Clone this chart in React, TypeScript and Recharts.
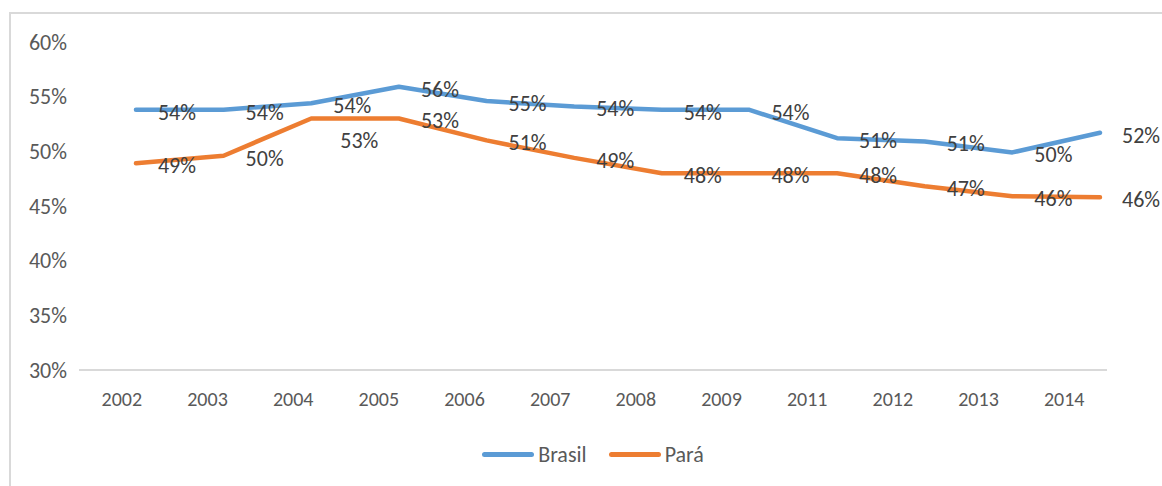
import { LineChart, Line, XAxis, YAxis, Legend, LabelList } from "recharts";

const years = ["2002", "2003", "2004", "2005", "2006", "2007", "2008", "2009", "2011", "2012", "2013", "2014"];
const brasil = [53.8, 53.8, 54.4, 55.9, 54.6, 54.1, 53.8, 53.8, 51.2, 50.9, 49.9, 51.7];
const para = [48.9, 49.6, 53.0, 53.0, 51.0, 49.4, 48.0, 48.0, 48.0, 46.8, 45.9, 45.8];
const yTicks = [30, 35, 40, 45, 50, 55, 60];

const rows = years.map((year, idx) => ({
    year,
    idx,
    brasil: brasil[idx],
    para: para[idx]
}));

const FONT = "Carlito, Calibri, Lato, sans-serif";
const BLUE = "#5b9bd5";
const ORANGE = "#ed7d31";

const pct = (v: any) => Math.round(Number(v)) + "%";

// data label to the right of the point; Pará labels drop below when the
// Brasil line is too close above
function makeLabel(kind: "brasil" | "para") {
    return (props: any) => {
        const { x, y, value, index } = props;
        const crowded = kind === "para" && brasil[index] - para[index] < 2;
        return (
            <text
                x={x + 22 + (crowded ? 7 : 0)}
                y={y + (crowded ? 22 : 2)}
                dy="0.355em"
                fill="#404040"
                fontSize={22}
                fontFamily={FONT}
                textAnchor="start"
            >
                {pct(value)}
            </text>
        );
    };
}

function LegendBox() {
    const items = [
        { name: "Brasil", color: BLUE },
        { name: "Pará", color: ORANGE }
    ];
    return (
        <div
            style={{
                display: "flex",
                justifyContent: "center",
                alignItems: "center",
                height: 30,
                gap: 22,
                fontFamily: FONT,
                fontSize: 22,
                color: "#595959"
            }}
        >
            {items.map(it => (
                <div key={it.name} style={{ display: "flex", alignItems: "center" }}>
                    <span
                        style={{
                            display: "inline-block",
                            width: 52,
                            height: 5,
                            borderRadius: 3,
                            background: it.color,
                            marginRight: 4
                        }}
                    />
                    <span>{it.name}</span>
                </div>
            ))}
        </div>
    );
}

export default function App() {
    return (
        <div
            style={{
                position: "fixed",
                left: 0,
                top: 0,
                width: 1162,
                height: 486,
                background: "#ffffff",
                overflow: "hidden",
                fontFamily: FONT
            }}
        >
            <div
                style={{
                    position: "absolute",
                    left: 9,
                    top: 12,
                    right: 0,
                    bottom: 0,
                    borderLeft: "2px solid #d9d9d9",
                    borderTop: "2px solid #d9d9d9"
                }}
            />
            <div style={{ position: "absolute", left: 0, top: 0 }}>
                <LineChart
                    width={1162}
                    height={486}
                    data={rows}
                    margin={{ top: 42, right: 55, bottom: 0, left: 0 }}
                >
                    <XAxis
                        xAxisId="cat"
                        dataKey="year"
                        type="category"
                        scale="band"
                        interval={0}
                        height={86}
                        tickLine={false}
                        tickSize={0}
                        tickMargin={22}
                        axisLine={{ stroke: "#d9d9d9", strokeWidth: 2 }}
                        tick={{ fill: "#595959", fontSize: 20, fontFamily: FONT }}
                    />
                    <XAxis
                        xAxisId="pts"
                        dataKey="idx"
                        type="number"
                        domain={[-0.65, 11.08]}
                        allowDataOverflow
                        hide
                    />
                    <YAxis
                        domain={[30, 60]}
                        ticks={yTicks}
                        width={79}
                        axisLine={false}
                        tickLine={false}
                        tickSize={0}
                        tickMargin={12}
                        tickFormatter={(v: number) => v + "%"}
                        tick={{ fill: "#595959", fontSize: 22, fontFamily: FONT }}
                    />
                    <Legend
                        verticalAlign="bottom"
                        content={() => <LegendBox />}
                        wrapperStyle={{ left: 79, width: 1028, bottom: 17 }}
                    />
                    <Line
                        xAxisId="pts"
                        dataKey="brasil"
                        name="Brasil"
                        stroke={BLUE}
                        strokeWidth={4.5}
                        strokeLinecap="round"
                        strokeLinejoin="round"
                        dot={false}
                        isAnimationActive={false}
                    >
                        <LabelList dataKey="brasil" content={makeLabel("brasil")} />
                    </Line>
                    <Line
                        xAxisId="pts"
                        dataKey="para"
                        name="Pará"
                        stroke={ORANGE}
                        strokeWidth={4.5}
                        strokeLinecap="round"
                        strokeLinejoin="round"
                        dot={false}
                        isAnimationActive={false}
                    >
                        <LabelList dataKey="para" content={makeLabel("para")} />
                    </Line>
                </LineChart>
            </div>
        </div>
    );
}
